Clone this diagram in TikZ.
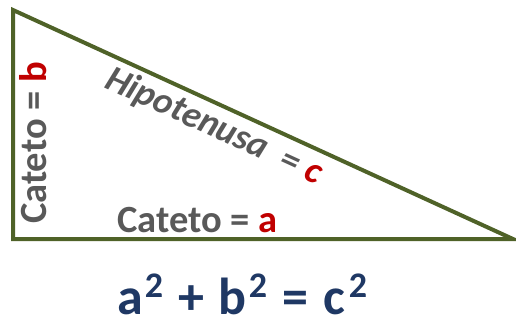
\documentclass[tikz,border=0pt]{standalone}
\usepackage{fontspec}
\setmainfont{Carlito}
\definecolor{olive}{HTML}{4F6228}
\definecolor{txtgray}{HTML}{595959}
\definecolor{txtred}{HTML}{C00000}
\definecolor{navy}{HTML}{1F3864}
\newcommand{\sqsup}{\kern2pt\raisebox{17pt}{\fontsize{36}{36}\selectfont 2}}
\newcommand{\fgap}{\hspace{15pt}}
\tikzset{
  side/.style={draw=olive, line width=4pt, line join=miter},
  lbl/.style={inner sep=0pt, font=\fontsize{38.5}{42}\selectfont\bfseries, text=txtgray},
  formula/.style={inner sep=0pt, font=\fontsize{52}{56}\selectfont\bfseries, text=navy}
}
\begin{document}
\begin{tikzpicture}[x=1pt,y=-1pt]
\useasboundingbox (0,0) rectangle (516,325);
\coordinate (A) at (13,10);
\coordinate (B) at (13,239);
\coordinate (C) at (513,239);
\draw[side] (A) -- (B) -- (C) -- cycle;
\node[lbl, rotate=90, anchor=base] (cb) at (46,143) {Cateto = \textcolor{txtred}{b}};
\node[lbl, anchor=base west] (ca) at (117,232) {Cateto = \textcolor{txtred}{a}};
\node[lbl, rotate=-24.6, anchor=base west, font=\fontsize{37}{40}\selectfont\bfseries\itshape] (hc) at (103,87) {Hipotenusa\ \ = \textcolor{txtred}{c}};
\node[formula, anchor=base west] (eq) at (117,314) {a\sqsup\fgap+\fgap b\sqsup\fgap=\fgap c\kern2pt\sqsup};
\end{tikzpicture}
\end{document}
